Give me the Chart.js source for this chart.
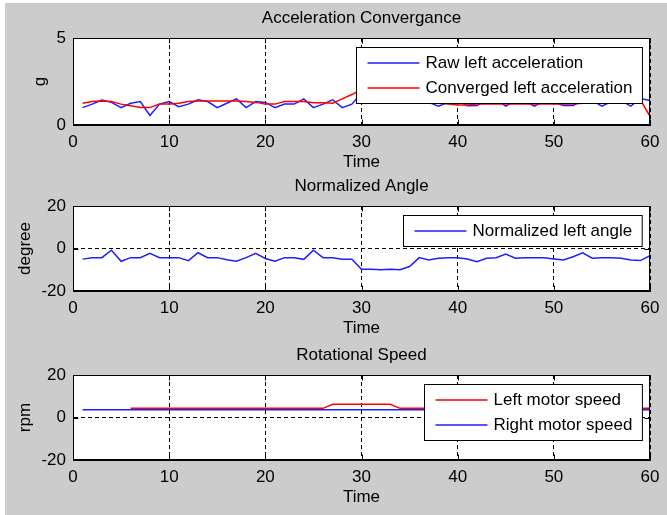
<!DOCTYPE html>
<html lang="en">
<head>
    <meta charset="UTF-8">
    <title>Acceleration / Angle / Speed</title>
    <script src="https://cdn.jsdelivr.net/npm/chart.js"></script>
    <style>
        html, body { margin: 0; padding: 0; background: #fff; }
        .fig { position: absolute; left: 5px; top: 3px; width: 662px; height: 512px; background: #cccccc; }
        canvas { position: absolute; left: 5px; }
    </style>
</head>
<body>
    <div class="fig"></div>
    <canvas id="accChart" width="662" height="175" style="top:0px"></canvas>
    <canvas id="angleChart" width="662" height="173" style="top:168px"></canvas>
    <canvas id="speedChart" width="662" height="173" style="top:337px"></canvas>

    <script>
// sample times
const time = [1,2,3,4,5,6,7,8,9,10,11,12,13,14,15,16,17,18,19,20,
              21,22,23,24,25,26,27,28,29,30,31,32,33,34,35,36,37,38,39,40,
              41,42,43,44,45,46,47,48,49,50,51,52,53,54,55,56,57,58,59,60];

// acceleration (g)
const rawLeftAcc = [1.0,1.2,1.44,1.3,1.0,1.25,1.35,0.55,1.2,1.35,1.05,1.2,1.45,1.35,1.0,1.25,1.5,1.0,1.35,1.3,
                    1.0,1.2,1.2,1.5,1.0,1.2,1.45,1.0,1.2,1.85,2.0,1.9,2.1,1.8,1.6,1.4,1.3,1.08,1.3,1.4,
                    1.1,1.12,1.4,1.45,1.08,1.4,1.35,1.08,1.4,1.3,1.12,1.12,1.4,1.4,1.08,1.35,1.4,1.08,1.52,1.4];
const convLeftAcc = [1.25,1.35,1.38,1.35,1.2,1.1,1.0,1.0,1.2,1.2,1.25,1.35,1.38,1.38,1.38,1.38,1.38,1.35,1.3,1.2,
                     1.2,1.35,1.35,1.35,1.28,1.28,1.25,1.5,1.75,2.05,2.1,2.0,1.9,1.7,1.5,1.4,1.3,1.25,1.2,1.15,
                     1.15,1.2,1.2,1.2,1.2,1.2,1.2,1.2,1.2,1.2,1.2,1.2,1.25,1.25,1.25,1.25,1.3,1.45,1.45,0.5];

// normalized angle (degree)
const leftAngle = [-5.0,-4.3,-4.3,-0.8,-6.0,-4.3,-4.3,-2.3,-4.3,-4.3,-4.3,-5.7,-2.0,-4.3,-4.3,-5.3,-6.0,-4.3,-2.3,-4.7,
                   -6.0,-4.3,-4.3,-5.1,-0.8,-4.3,-4.3,-5.1,-5.1,-9.8,-9.8,-10.0,-9.8,-10.0,-8.5,-4.3,-5.4,-4.6,-4.3,-4.3,
                   -4.9,-6.2,-4.6,-4.3,-2.6,-4.6,-4.3,-4.3,-4.3,-4.9,-5.4,-3.9,-2.0,-4.6,-4.3,-4.3,-4.6,-5.4,-5.7,-3.4];

// motor speed (rpm)
const leftSpeed = [null,null,null,null,null,4.3,4.3,4.3,4.3,4.3,4.3,4.3,4.3,4.3,4.3,4.3,4.3,4.3,4.3,4.3,
                   4.3,4.3,4.3,4.3,4.3,4.3,6.2,6.2,6.2,6.2,6.2,6.2,6.2,4.3,4.3,4.3,4.3,4.3,4.3,4.3,
                   4.3,4.3,4.3,4.3,4.3,4.3,4.3,4.3,4.3,4.3,4.3,4.3,4.3,4.3,4.3,4.3,4.3,4.3,4.3,4.3];
const rightSpeed = [3.7,3.7,3.7,3.7,3.7,3.7,3.7,3.7,3.7,3.7,3.7,3.7,3.7,3.7,3.7,3.7,3.7,3.7,3.7,3.7,
                    3.7,3.7,3.7,3.7,3.7,3.7,3.7,3.7,3.7,3.7,3.7,3.7,3.7,3.7,3.7,3.7,3.7,3.7,3.7,3.7,
                    3.7,3.7,3.7,3.7,3.7,3.7,3.7,3.7,3.7,3.7,3.7,3.7,3.7,3.7,3.7,3.7,3.7,3.7,3.7,3.7];

const xTicks = [0, 10, 20, 30, 40, 50, 60];

const BLUE = 'rgb(30,30,255)';
const RED = 'rgb(255,0,0)';

Chart.defaults.font.family = '"Liberation Sans", Arial, sans-serif';
Chart.defaults.font.size = 17;
Chart.defaults.color = '#000';

function pts(ys) {
    return time.map((t, i) => ({ x: t, y: ys[i] }));
}

// white axes box, inner tick marks, box border and a matlab-like legend
const matlabFrame = {
    id: 'matlabFrame',
    beforeDraw(chart) {
        const a = chart.chartArea;
        const ctx = chart.ctx;
        ctx.save();
        ctx.fillStyle = '#fff';
        ctx.fillRect(a.left, a.top, a.right - a.left, a.bottom - a.top);
        ctx.restore();
    },
    afterDatasetsDraw(chart) {
        const a = chart.chartArea;
        const ctx = chart.ctx;
        const L = Math.round(a.left) + 0.5, R = Math.round(a.right) - 0.5;
        const T = Math.round(a.top) + 0.5, B = Math.round(a.bottom) - 0.5;

        // legend
        const sets = chart.data.datasets;
        ctx.save();
        ctx.font = '17px "Liberation Sans", Arial, sans-serif';
        let tw = 0;
        sets.forEach(d => { tw = Math.max(tw, ctx.measureText(d.label).width); });
        const bw = 11 + 52 + 6 + tw + 10;
        const bh = sets.length * 25 + 6;
        const bx = Math.round(R - 8 - bw) + 0.5;
        const by = Math.round(T + 8) + 0.5;
        ctx.fillStyle = '#fff';
        ctx.fillRect(bx, by, bw, bh);
        ctx.strokeStyle = '#000';
        ctx.lineWidth = 1;
        ctx.strokeRect(bx, by, bw, bh);
        sets.forEach((d, i) => {
            const cy = by + 3 + 12.5 + 25 * i;
            ctx.strokeStyle = d.borderColor;
            ctx.lineWidth = 1.5;
            ctx.beginPath();
            ctx.moveTo(bx + 11, cy);
            ctx.lineTo(bx + 63, cy);
            ctx.stroke();
            ctx.fillStyle = '#000';
            ctx.textBaseline = 'middle';
            ctx.fillText(d.label, bx + 69, cy);
        });

        // inner ticks
        ctx.strokeStyle = '#000';
        ctx.lineWidth = 1;
        ctx.beginPath();
        const xs = chart.scales.x, ys = chart.scales.y;
        xs.ticks.forEach(t => {
            const p = Math.round(xs.getPixelForValue(t.value)) + 0.5;
            ctx.moveTo(p, B); ctx.lineTo(p, B - 5);
            ctx.moveTo(p, T); ctx.lineTo(p, T + 5);
        });
        ys.ticks.forEach(t => {
            const p = Math.round(ys.getPixelForValue(t.value)) + 0.5;
            ctx.moveTo(L, p); ctx.lineTo(L + 5, p);
            ctx.moveTo(R, p); ctx.lineTo(R - 5, p);
        });
        ctx.stroke();
        ctx.strokeRect(L, T, R - L, B - T);
        ctx.restore();
    }
};

function makeChart(id, title, yTitle, yTitlePad, yMin, yMax, yStep, datasets) {
    return new Chart(document.getElementById(id), {
        type: 'line',
        data: { datasets: datasets },
        options: {
            responsive: false,
            animation: false,
            layout: { padding: { left: 0, right: 17, top: 0, bottom: 0 } },
            plugins: {
                legend: { display: false },
                tooltip: { enabled: false },
                title: {
                    display: true,
                    text: title,
                    fullSize: false,
                    color: '#000',
                    font: { size: 17, weight: 'normal' },
                    padding: { top: 8.3, bottom: 9.3 }
                }
            },
            elements: { point: { radius: 0 }, line: { borderWidth: 1.5, tension: 0 } },
            scales: {
                x: {
                    type: 'linear',
                    min: 0, max: 60,
                    afterBuildTicks: s => { s.ticks = xTicks.map(v => ({ value: v })); },
                    afterFit: s => { s.height = 50; },
                    ticks: { padding: 7, color: '#000', font: { size: 17 } },
                    grid: { color: '#000', lineWidth: 1, drawTicks: false },
                    border: { display: true, color: '#000', dash: [4, 3] },
                    title: { display: true, text: 'Time', color: '#000', font: { size: 17 }, padding: { top: 0, bottom: 2.3 } }
                },
                y: {
                    min: yMin, max: yMax,
                    ticks: { stepSize: yStep, padding: 7, color: '#000', font: { size: 17 } },
                    afterFit: s => { s.width = 68; },
                    grid: { color: '#000', lineWidth: 1, drawTicks: false },
                    border: { display: true, color: '#000', dash: [4, 3] },
                    title: { display: true, text: yTitle, color: '#000', font: { size: 17 }, padding: { top: yTitlePad, bottom: 0 } }
                }
            }
        },
        plugins: [matlabFrame]
    });
}

makeChart('accChart', 'Acceleration Convergance', 'g', 24.8, 0, 5, 5, [
    { label: 'Raw left acceleration', data: pts(rawLeftAcc), borderColor: BLUE, order: 1 },
    { label: 'Converged left acceleration', data: pts(convLeftAcc), borderColor: RED, order: 0 }
]);

makeChart('angleChart', 'Normalized Angle', 'degree', 9.8, -20, 20, 20, [
    { label: 'Normalized left angle', data: pts(leftAngle), borderColor: BLUE }
]);

makeChart('speedChart', 'Rotational Speed', 'rpm', 9.8, -20, 20, 20, [
    { label: 'Left motor speed', data: pts(leftSpeed), borderColor: RED, order: 0 },
    { label: 'Right motor speed', data: pts(rightSpeed), borderColor: BLUE, order: 1 }
]);
    </script>
</body>
</html>
